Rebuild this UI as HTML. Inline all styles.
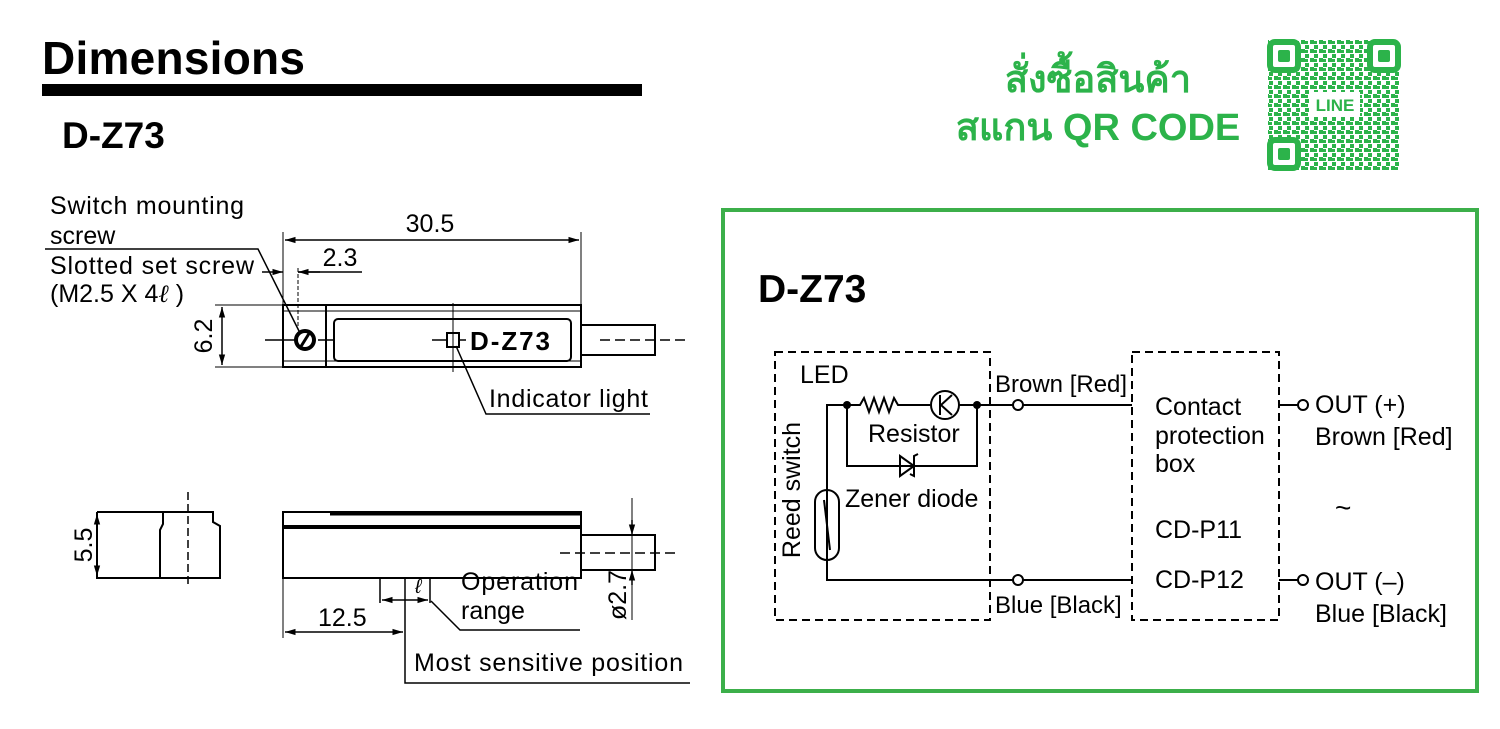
<!DOCTYPE html>
<html><head><meta charset="utf-8"><style>
html,body{margin:0;padding:0;background:#fff;}
svg{display:block;}
text{font-family:"Liberation Sans",Arial,sans-serif;}
</style></head><body>
<svg width="1500" height="729" viewBox="0 0 1500 729" xmlns="http://www.w3.org/2000/svg">
<defs>
<pattern id="qr" width="9" height="9" patternUnits="userSpaceOnUse">
<rect x="0" y="0" width="4" height="4" fill="#2cb34a"/><rect x="5" y="4" width="4" height="4" fill="#2cb34a"/><rect x="0" y="5" width="3" height="3" fill="#2cb34a"/>
</pattern>
<marker id="ar" viewBox="0 0 10 10" refX="10" refY="5" markerWidth="7" markerHeight="7" orient="auto-start-reverse"><path d="M0,2 L10,5 L0,8z" fill="#000"/></marker>
</defs>
<!-- Header -->
<text x="42" y="74" font-size="46" font-weight="bold" textLength="263">Dimensions</text>
<rect x="42" y="84" width="600" height="12" fill="#000"/>
<text x="62" y="148" font-size="37" font-weight="bold">D-Z73</text>
<g fill="#2cb34a" font-weight="bold" font-size="38" text-anchor="middle">
<text x="1098" y="92" style="font-family:'Liberation Sans',sans-serif">สั่งซื้อสินค้า</text>
<text x="1098" y="140" style="font-family:'Liberation Sans',sans-serif">สแกน QR CODE</text>
</g>
<!-- QR -->
<rect x="1268" y="40" width="132" height="130" fill="url(#qr)"/>
<g fill="#fff" stroke="#2cb34a" stroke-width="6">
<rect x="1270" y="42" width="28" height="28" rx="5"/><rect x="1370" y="42" width="28" height="28" rx="5"/><rect x="1270" y="140" width="28" height="28" rx="5"/>
</g>
<g fill="#2cb34a"><rect x="1278" y="50" width="12" height="12" rx="2"/><rect x="1378" y="50" width="12" height="12" rx="2"/><rect x="1278" y="148" width="12" height="12" rx="2"/></g>
<rect x="1310" y="92" width="50" height="24" fill="#fff"/>
<text x="1335" y="111" font-size="17" font-weight="bold" fill="#2cb34a" text-anchor="middle">LINE</text>

<!-- Drawing top view -->
<g stroke="#000" fill="none" stroke-width="2">
<rect x="283" y="305" width="298" height="62"/>
<line x1="283" y1="311" x2="581" y2="311" stroke-width="1"/>
<line x1="283" y1="361" x2="581" y2="361" stroke-width="1"/>
<line x1="326" y1="305" x2="326" y2="367"/>
<circle cx="305" cy="340" r="9" stroke-width="4"/>
<line x1="300" y1="348" x2="310" y2="332" stroke-width="3"/>
<rect x="334" y="319" width="237" height="42" rx="4"/>
<rect x="447" y="333" width="12" height="14" stroke-width="2"/>
<rect x="581" y="325" width="74" height="30"/>
<line x1="265" y1="340" x2="295" y2="340" stroke-width="1.5"/>
<line x1="318" y1="340" x2="333" y2="340" stroke-width="1.5"/>
<line x1="432" y1="340" x2="447" y2="340" stroke-width="1.5"/>
<line x1="459" y1="340" x2="466" y2="340" stroke-width="1.5"/>
<line x1="600" y1="340" x2="685" y2="340" stroke-width="1.5" stroke-dasharray="10,5"/>
<line x1="453" y1="303" x2="453" y2="372" stroke-width="1"/>
<line x1="283" y1="232" x2="283" y2="305" stroke-width="1"/>
<line x1="581" y1="232" x2="581" y2="305" stroke-width="1"/>
<line x1="285" y1="240" x2="579" y2="240" stroke-width="1.5" marker-start="url(#ar)" marker-end="url(#ar)"/>
<line x1="298" y1="268" x2="298" y2="330" stroke-width="1" stroke-dasharray="4,2"/>
<line x1="262" y1="272" x2="283" y2="272" stroke-width="1.5" marker-end="url(#ar)"/>
<line x1="320" y1="272" x2="298" y2="272" stroke-width="1.5" marker-end="url(#ar)"/>
<line x1="298" y1="272" x2="362" y2="272" stroke-width="1.5"/>
<line x1="215" y1="305" x2="283" y2="305" stroke-width="1"/>
<line x1="215" y1="367" x2="283" y2="367" stroke-width="1"/>
<line x1="222" y1="307" x2="222" y2="365" stroke-width="1.5" marker-start="url(#ar)" marker-end="url(#ar)"/>
<polyline points="45,249 258,249 300,333" stroke-width="1.5"/>
<polyline points="456,346 486,414 650,414" stroke-width="1.5"/>
</g>
<g font-size="25">
<text x="50" y="214" textLength="194">Switch mounting</text>
<text x="50" y="244">screw</text>
<text x="50" y="274" textLength="204">Slotted set screw</text>
<text x="50" y="302">(M2.5 X 4<tspan font-style="italic" font-family="Liberation Serif">ℓ</tspan> )</text>
<text x="430" y="232" text-anchor="middle">30.5</text>
<text x="340" y="266" text-anchor="middle">2.3</text>
<text transform="translate(212,336) rotate(-90)" text-anchor="middle">6.2</text>
<text x="489" y="407" textLength="159">Indicator light</text>
</g>
<text x="470" y="350" font-size="26" font-weight="bold" font-family="Liberation Mono" textLength="80">D-Z73</text>

<!-- bottom views -->
<g stroke="#000" fill="none" stroke-width="2">
<polyline points="97,512 213,512 213,522 220,526 220,578 97,578 97,512"/>
<polyline points="160,578 160,530 163,524 163,512"/>
<line x1="188" y1="492" x2="188" y2="585" stroke-width="1.5" stroke-dasharray="8,4"/>
<line x1="97" y1="514" x2="97" y2="576" stroke-width="1.5" marker-start="url(#ar)" marker-end="url(#ar)"/>
<rect x="283" y="512" width="298" height="66"/>
<line x1="283" y1="527" x2="581" y2="527" stroke-width="4"/>
<line x1="330" y1="514" x2="581" y2="514" stroke-width="3"/>
<rect x="581" y="535" width="74" height="35"/>
<line x1="560" y1="553" x2="680" y2="553" stroke-width="1.5" stroke-dasharray="10,5"/>
<line x1="632" y1="498" x2="632" y2="620" stroke-width="1"/>
<line x1="632" y1="520" x2="632" y2="535" stroke-width="1.5" marker-end="url(#ar)"/>
<line x1="632" y1="585" x2="632" y2="570" stroke-width="1.5" marker-end="url(#ar)"/>
<line x1="380" y1="578" x2="380" y2="603" stroke-width="1.5"/>
<line x1="430" y1="578" x2="430" y2="603" stroke-width="1.5"/>
<line x1="382" y1="600" x2="428" y2="600" stroke-width="1.5" marker-start="url(#ar)" marker-end="url(#ar)"/>
<polyline points="431,601 460,630 580,630" stroke-width="1.5"/>
<line x1="283" y1="578" x2="283" y2="638" stroke-width="1"/>
<line x1="285" y1="632" x2="403" y2="632" stroke-width="1.5" marker-start="url(#ar)" marker-end="url(#ar)"/>
<polyline points="405,578 405,683 690,683" stroke-width="1.5"/>
</g>
<g font-size="25">
<text transform="translate(92,545) rotate(-90)" text-anchor="middle">5.5</text>
<text transform="translate(626,595) rotate(-90)" text-anchor="middle">ø2.7</text>
<text x="415" y="593" font-style="italic" font-family="Liberation Serif" font-size="20">ℓ</text>
<text x="461" y="590" textLength="117">Operation</text>
<text x="461" y="619">range</text>
<text x="318" y="626">12.5</text>
<text x="414" y="671" textLength="269">Most sensitive position</text>
</g>

<!-- Circuit box -->
<rect x="723" y="210" width="754" height="481" fill="none" stroke="#3caf4a" stroke-width="4"/>
<text x="758" y="302" font-size="39" font-weight="bold">D-Z73</text>
<g stroke="#000" fill="none" stroke-width="2">
<rect x="775" y="352" width="215" height="268" stroke-dasharray="8,5"/>
<rect x="1132" y="352" width="147" height="268" stroke-dasharray="8,5"/>
<polyline points="827,560 827,405 847,405 860,405 864,398 869,412 874,398 879,412 884,398 889,412 894,398 898,405 930,405"/>
<circle cx="945" cy="405" r="14"/>
<line x1="940" y1="395" x2="940" y2="415"/>
<polyline points="952,395 941,405 952,415"/>
<line x1="959" y1="405" x2="1013" y2="405"/>
<line x1="1023" y1="405" x2="1132" y2="405"/>
<circle cx="1018" cy="405" r="5"/>
<polyline points="847,405 847,466 977,466 977,405"/>
<polygon points="900,456 900,476 914,466" />
<polyline points="910,474 914,476 914,456 918,454"/>
<rect x="815" y="490" width="24" height="70" rx="12"/>
<line x1="824" y1="500" x2="830" y2="550"/>
<polyline points="827,560 827,580 1013,580"/>
<circle cx="1018" cy="580" r="5"/>
<line x1="1023" y1="580" x2="1132" y2="580"/>
<line x1="1279" y1="405" x2="1298" y2="405"/>
<circle cx="1303" cy="405" r="5"/>
<line x1="1279" y1="580" x2="1298" y2="580"/>
<circle cx="1303" cy="580" r="5"/>
</g>
<circle cx="847" cy="405" r="4"/><circle cx="977" cy="405" r="4"/>
<g font-size="25">
<text x="800" y="383">LED</text>
<text x="868" y="442">Resistor</text>
<text x="845" y="507">Zener diode</text>
<text transform="translate(800,490) rotate(-90)" text-anchor="middle">Reed switch</text>
<text x="995" y="392" font-size="24">Brown [Red]</text>
<text x="995" y="613" font-size="24">Blue [Black]</text>
<text x="1155" y="415">Contact</text>
<text x="1155" y="444">protection</text>
<text x="1155" y="472">box</text>
<text x="1155" y="538">CD-P11</text>
<text x="1155" y="588">CD-P12</text>
<text x="1315" y="413">OUT (+)</text>
<text x="1315" y="445">Brown [Red]</text>
<text x="1335" y="517" font-size="28">~</text>
<text x="1315" y="590">OUT (–)</text>
<text x="1315" y="622">Blue [Black]</text>
</g>
</svg>
</body></html>
